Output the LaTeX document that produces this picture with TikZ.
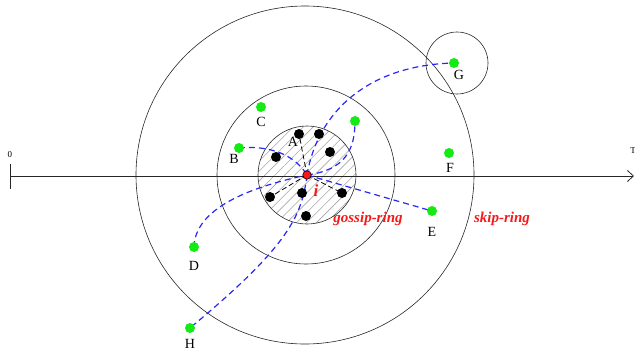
\documentclass[tikz,border=0pt]{standalone}
\usepackage{fontspec}
\setmainfont{Liberation Serif}
\usetikzlibrary{arrows.meta,patterns.meta}
\pgfdeclarelayer{rings}
\pgfdeclarelayer{links}
\pgfsetlayers{rings,links,main}
\definecolor{gdot}{RGB}{20,235,20}
\definecolor{bline}{RGB}{40,40,245}
\definecolor{rtext}{RGB}{245,25,25}
\tikzset{
  ring/.style={draw=black!85,line width=0.6pt},
  gnode/.style={circle,fill=gdot,inner sep=0pt,minimum size=10pt},
  knode/.style={circle,fill=black,inner sep=0pt,minimum size=10pt},
  lab/.style={inner sep=0pt,font=\fontsize{14}{16}\selectfont},
  msg/.style={bline,line width=1.2pt,dash pattern=on 6pt off 4pt},
  kmsg/.style={black,line width=0.8pt,dash pattern=on 5pt off 3pt},
  ringlab/.style={inner sep=0pt,text=rtext,font=\fontsize{15}{17}\selectfont\bfseries\itshape}
}
\begin{document}
\begin{tikzpicture}[x=1pt,y=-1pt]
\useasboundingbox (0,0) rectangle (635,351);
% rings
\begin{pgfonlayer}{rings}
\draw[ring] (305,175) circle[radius=169];
\draw[ring] (306,175) circle[radius=89];
\fill[pattern={Lines[angle=45,distance=7pt,line width=0.6pt]},pattern color=black!35] (307,175) circle[radius=49];
\draw[ring] (307,175) circle[radius=49];
\draw[ring] (457,63) circle[radius=31];
\end{pgfonlayer}
% axis
\coordinate (ax0) at (10,176);
\coordinate (axT) at (634,176);
\begin{pgfonlayer}{rings}
\draw[black!85,line width=0.8pt,-{Straight Barb[length=6pt,width=11pt]}] (ax0) -- (axT);
\draw[black!85,line width=0.8pt] (10,164) -- (10,189);
\end{pgfonlayer}
\node[inner sep=0pt,font=\fontsize{9}{10}\selectfont] (zero) at (10,155) {0};
\node[inner sep=0pt,font=\fontsize{9}{10}\selectfont] (tT) at (633,151) {T};
% black dots
\node[knode] (k1) at (299,134) {};
\node[knode] (k2) at (319,134) {};
\node[knode] (k3) at (276,157) {};
\node[knode] (k4) at (330,152) {};
\node[knode] (k5) at (270,197) {};
\node[knode] (k6) at (302,193) {};
\node[knode] (k7) at (342,193) {};
\node[knode] (k8) at (306,216) {};
% green dots
\node[gnode] (G) at (454,63) {};
\node[gnode] (C) at (261,107) {};
\node[gnode] (B) at (239,148) {};
\node[gnode] (F) at (449,153) {};
\node[gnode] (E) at (432,211) {};
\node[gnode] (D) at (194,247) {};
\node[gnode] (H) at (190,328) {};
\node[gnode] (X) at (355,121) {};
% centre
\node[circle,fill=rtext,draw=black,line width=0.6pt,inner sep=0pt,minimum size=8.5pt] (i) at (307,175) {};
% connectors
\begin{pgfonlayer}{links}
\draw[kmsg] (i.center) -- (k1.center);
\draw[kmsg] (i.center) -- (k5.center);
\draw[kmsg] (i.center) -- (k7.center);
\draw[msg] (i.center) .. controls (318,110) and (370,65) .. (G.center);
\draw[msg] (i.center) .. controls (345,170) and (355,150) .. (X.center);
\draw[msg] (B.center) .. controls (270,145) and (295,155) .. (i.center);
\draw[msg] (D.center) .. controls (195,205) and (260,185) .. (i.center);
\draw[msg] (i.center) -- (E.center);
\draw[msg] (i.center) .. controls (302,215) and (290,245) .. (H.center);
\end{pgfonlayer}
% labels
\node[lab] (lA) at (293,142) {A};
\node[lab] (lG) at (459,75) {G};
\node[lab] (lC) at (261,122) {C};
\node[lab] (lB) at (234,159) {B};
\node[lab] (lF) at (450,168) {F};
\node[lab] (lE) at (432,232) {E};
\node[lab] (lD) at (194,266) {D};
\node[lab] (lH) at (190,344) {H};
\node[ringlab,font=\fontsize{17}{19}\selectfont\bfseries\itshape] (li) at (316,191) {i};
\node[ringlab] (lgossip) at (368,219) {gossip-ring};
\node[ringlab] (lskip) at (502,219) {skip-ring};
\end{tikzpicture}
\end{document}
